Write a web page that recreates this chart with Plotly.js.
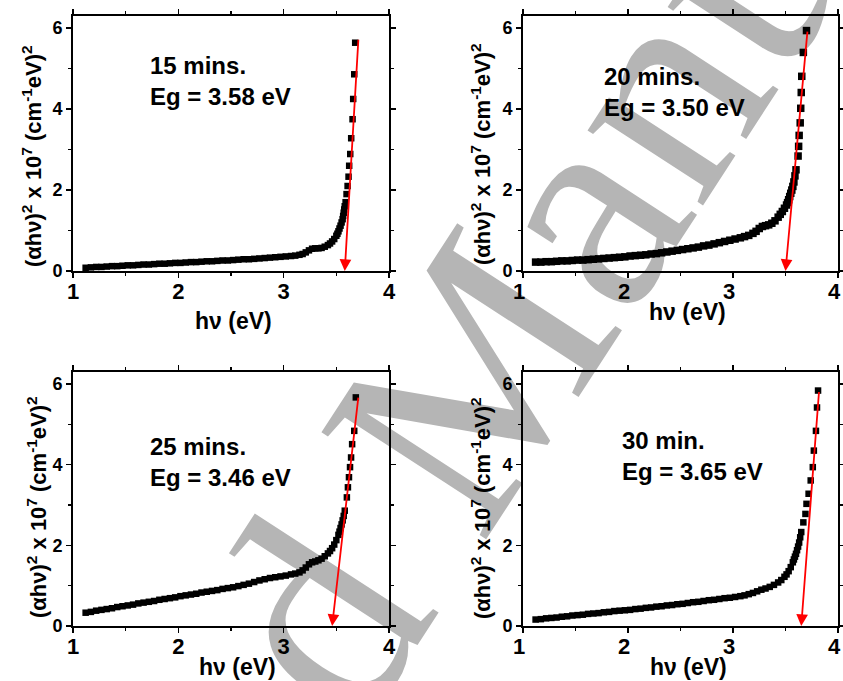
<!DOCTYPE html>
<html>
<head>
<meta charset="utf-8">
<script src="https://cdn.plot.ly/plotly-3.0.1.min.js"></script>
<style>
  html, body { margin: 0; padding: 0; background: #ffffff; }
  #wrap { position: relative; width: 843px; height: 681px; overflow: hidden; background: #ffffff; }
  #watermark {
    position: absolute; left: 440px; top: 425px;
    transform: translate(-50%, -50%) rotate(-57deg);
    white-space: nowrap; font-family: 'Liberation Serif', 'DejaVu Serif', serif;
    font-size: 300px; line-height: 1; color: #b5b5b5; z-index: 0;
  }
  #chart { position: absolute; left: 0; top: 0; width: 843px; height: 681px; z-index: 1; }
</style>
</head>
<body>
<div id="wrap">
  <div id="watermark">Accepted Manuscript</div>
  <div id="chart"></div>
</div>
<script>
// ---- data ----
const energyGrid = [1.12,1.17,1.22,1.27,1.32,1.37,1.42,1.47,1.52,1.57,1.62,1.67,1.72,1.77,1.82,1.87,1.92,1.97,2.02,2.07,
                    2.12,2.17,2.22,2.27,2.32,2.37,2.42,2.47,2.52,2.57,2.62,2.67,2.72,2.77,2.82,2.87,2.92,2.97,3.02,3.07];

const y15Base = [0.08,0.09,0.10,0.10,0.11,0.12,0.12,0.13,0.14,0.14,0.15,0.16,0.16,0.17,0.18,0.18,0.19,0.20,0.20,0.21,
                 0.22,0.22,0.23,0.24,0.24,0.25,0.26,0.26,0.27,0.28,0.29,0.29,0.30,0.31,0.32,0.33,0.34,0.35,0.36,0.37];
const x15Edge = [3.11,3.15,3.18,3.21,3.24,3.27,3.30,3.33,3.36,3.39,3.42,3.44,3.46,3.48,3.50,3.51,3.52,3.53,3.54,3.55,3.56,3.565,3.57,3.575,3.58,
                 3.588,3.597,3.607,3.616,3.622,3.632,3.641,3.654,3.660,3.670,3.679];
const y15Edge = [0.38,0.40,0.42,0.46,0.51,0.55,0.56,0.56,0.57,0.60,0.64,0.68,0.73,0.79,0.87,0.92,0.98,1.05,1.12,1.20,1.28,1.36,1.44,1.52,1.60,
                 1.70,1.90,2.10,2.33,2.60,2.89,3.28,3.75,4.25,4.86,5.64];

const y20Base = [0.22,0.22,0.23,0.23,0.24,0.25,0.25,0.26,0.27,0.27,0.28,0.29,0.30,0.31,0.32,0.33,0.34,0.35,0.37,0.38,
                 0.39,0.40,0.42,0.43,0.45,0.47,0.49,0.51,0.53,0.55,0.57,0.59,0.62,0.64,0.67,0.70,0.73,0.76,0.79,0.82];
const x20Edge = [3.11,3.15,3.19,3.22,3.25,3.28,3.31,3.34,3.37,3.40,3.43,3.45,3.47,3.49,3.51,3.52,3.53,3.54,3.55,3.56,3.57,3.58,3.59,3.60,
                 3.62,3.625,3.63,3.64,3.645,3.65,3.655,3.67,3.70];
const y20Edge = [0.85,0.88,0.93,0.98,1.05,1.10,1.12,1.14,1.18,1.24,1.33,1.40,1.47,1.55,1.63,1.69,1.76,1.84,1.92,2.00,2.09,2.20,2.35,2.50,
                 2.84,3.08,3.35,3.66,4.02,4.41,4.81,5.40,5.94];

const y25Base = [0.33,0.35,0.38,0.40,0.42,0.44,0.47,0.49,0.51,0.53,0.56,0.58,0.60,0.62,0.65,0.67,0.69,0.71,0.74,0.76,
                 0.78,0.80,0.83,0.85,0.87,0.89,0.92,0.94,0.96,0.99,1.02,1.05,1.09,1.13,1.16,1.19,1.21,1.23,1.25,1.28];
const x25Edge = [3.11,3.15,3.18,3.21,3.24,3.27,3.30,3.33,3.36,3.39,3.42,3.44,3.46,3.48,3.50,3.52,3.53,3.54,3.55,3.56,3.57,3.58,
                 3.60,3.61,3.62,3.63,3.64,3.65,3.67,3.685];
const y25Edge = [1.30,1.33,1.38,1.45,1.53,1.58,1.60,1.63,1.67,1.73,1.80,1.86,1.93,2.02,2.13,2.26,2.34,2.43,2.52,2.62,2.73,2.86,
                 3.19,3.44,3.69,3.94,4.18,4.51,4.84,5.67];

const y30Base = [0.16,0.17,0.19,0.20,0.21,0.23,0.24,0.26,0.27,0.28,0.30,0.31,0.32,0.34,0.35,0.37,0.38,0.39,0.40,0.42,
                 0.43,0.45,0.46,0.48,0.49,0.51,0.52,0.54,0.55,0.57,0.59,0.60,0.62,0.64,0.65,0.67,0.69,0.70,0.72,0.74];
const x30Edge = [3.11,3.15,3.19,3.23,3.27,3.31,3.35,3.39,3.43,3.46,3.49,3.51,3.53,3.55,3.57,3.58,3.59,3.60,3.61,3.62,3.63,3.64,3.65,
                 3.67,3.69,3.70,3.72,3.74,3.76,3.77,3.79,3.80,3.81];
const y30Edge = [0.76,0.79,0.82,0.86,0.90,0.93,0.97,1.02,1.08,1.14,1.22,1.28,1.36,1.46,1.58,1.65,1.72,1.79,1.88,1.97,2.07,2.20,2.33,
                 2.57,2.78,3.03,3.28,3.61,3.94,4.35,4.84,5.42,5.84];

const sampleLabels = ['15 mins.', '20 mins.', '25 mins.', '30 min.'];
const bandGaps = [3.58, 3.50, 3.46, 3.65];
const gapLabels = ['Eg = 3.58 eV', 'Eg = 3.50 eV', 'Eg = 3.46 eV', 'Eg = 3.65 eV'];
const fitTopX = [3.71, 3.71, 3.71, 3.82];
const fitTopY = [5.75, 5.95, 5.70, 5.84];

const xTicks = [1, 2, 3, 4];
const xMinor = [1.5, 2.5, 3.5];
const yTicks = [0, 2, 4, 6];
const yMinor = [1, 3, 5];
const xTitle = 'h\u03bd (eV)';
const yTitle = '(\u03b1h\u03bd)<sup>2</sup> x 10<sup>7</sup> (cm<sup>-1</sup>eV)<sup>2</sup>';

// ---- layout geometry (pixels) ----
const W = 843, H = 681;
const boxes = [
  {x0: 73,  x1: 389, y0: 16,  y1: 271, yt: [32, 156],  xt: [233, 321], lab: [1.71, 4.69], mk: 6.5, shift: 0},
  {x0: 523, x1: 838, y0: 16,  y1: 271, yt: [481, 154], xt: [687, 312], lab: [1.75, 4.41], mk: 7.5, shift: -4},
  {x0: 73,  x1: 389, y0: 372, y1: 626, yt: [37, 507],  xt: [238, 667], lab: [1.71, 4.07], mk: 6.5, shift: 0},
  {x0: 523, x1: 838, y0: 372, y1: 626, yt: [481, 508], xt: [688, 667], lab: [1.92, 4.22], mk: 6.5, shift: -4}
];
const seriesX = [energyGrid.concat(x15Edge), energyGrid.concat(x20Edge), energyGrid.concat(x25Edge), energyGrid.concat(x30Edge)];
const seriesY = [y15Base.concat(y15Edge), y20Base.concat(y20Edge), y25Base.concat(y25Edge), y30Base.concat(y30Edge)];

const FONT = 'Liberation Sans, Arial, sans-serif';
const traces = [];
const layout = {
  width: W, height: H,
  margin: {l: 0, r: 0, t: 0, b: 0},
  paper_bgcolor: 'rgba(0,0,0,0)', plot_bgcolor: 'rgba(0,0,0,0)',
  showlegend: false,
  annotations: []
};

boxes.forEach((b, i) => {
  const n = i + 1;
  const xa = n === 1 ? 'x' : 'x' + n;
  const ya = n === 1 ? 'y' : 'y' + n;
  const xKey = n === 1 ? 'xaxis' : 'xaxis' + n;
  const yKey = n === 1 ? 'yaxis' : 'yaxis' + n;
  layout[xKey] = {
    domain: [b.x0 / W, b.x1 / W], anchor: ya, range: [1, 4],
    tickmode: 'array', tickvals: xTicks, ticks: 'outside', ticklen: 5, tickwidth: 1.5, tickcolor: '#000',
    minor: {tickmode: 'array', tickvals: xMinor, ticks: 'outside', ticklen: 3, tickwidth: 1.5, tickcolor: '#000'},
    showline: true, linewidth: 2, linecolor: '#000', mirror: 'ticks',
    showgrid: false, zeroline: false, ticklabelstandoff: -5, ticklabelshift: b.shift,
    tickfont: {family: FONT, size: 22, color: '#000', weight: 'bold'}
  };
  layout[yKey] = {
    domain: [1 - b.y1 / H, 1 - b.y0 / H], anchor: xa, range: [0, 6.3],
    tickmode: 'array', tickvals: yTicks, ticks: 'outside', ticklen: 5, tickwidth: 1.5, tickcolor: '#000',
    minor: {tickmode: 'array', tickvals: yMinor, ticks: 'outside', ticklen: 3, tickwidth: 1.5, tickcolor: '#000'},
    showline: true, linewidth: 2, linecolor: '#000', mirror: 'ticks',
    showgrid: false, zeroline: false,
    tickfont: {family: FONT, size: 18, color: '#000', weight: 'bold'}
  };
  traces.push({
    type: 'scatter', mode: 'markers', x: seriesX[i], y: seriesY[i], xaxis: xa, yaxis: ya,
    marker: {symbol: 'square', size: b.mk, color: '#000', line: {width: 0}},
    cliponaxis: false, hoverinfo: 'skip'
  });
  // red fit line with arrow pointing to Eg
  layout.annotations.push({
    xref: xa, yref: ya, axref: xa, ayref: ya,
    x: bandGaps[i], y: 0, ax: fitTopX[i], ay: fitTopY[i],
    text: '', showarrow: true, arrowcolor: '#ff0000', arrowwidth: 1.8, arrowhead: 2, arrowsize: 1.3
  });
  layout.annotations.push({
    xref: xa, yref: ya, x: b.lab[0], y: b.lab[1], xanchor: 'left', yanchor: 'middle', align: 'left',
    text: sampleLabels[i] + '<br>' + gapLabels[i], showarrow: false,
    font: {family: FONT, size: 24, color: '#000', weight: 'bold'}
  });
  layout.annotations.push({
    xref: 'paper', yref: 'paper', x: b.yt[0] / W, y: 1 - b.yt[1] / H, xanchor: 'center', yanchor: 'middle',
    textangle: -90, text: yTitle, showarrow: false,
    font: {family: FONT, size: 22, color: '#000', weight: 'bold'}
  });
  layout.annotations.push({
    xref: 'paper', yref: 'paper', x: b.xt[0] / W, y: 1 - b.xt[1] / H, xanchor: 'center', yanchor: 'middle',
    text: xTitle, showarrow: false,
    font: {family: FONT, size: 23, color: '#000', weight: 'bold'}
  });
});

Plotly.newPlot('chart', traces, layout, {staticPlot: true, displayModeBar: false});
</script>
</body>
</html>
